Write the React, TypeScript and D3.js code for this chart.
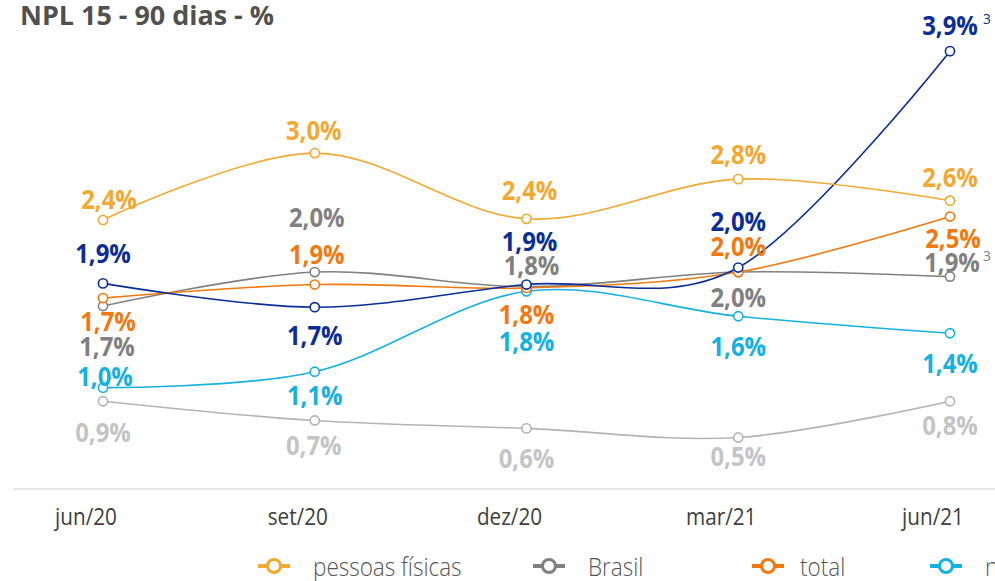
import React from 'react';
import * as d3 from 'd3';

const categories = ['jun/20', 'set/20', 'dez/20', 'mar/21', 'jun/21'];

const pessoasFisicas = [2.41, 3.0, 2.42, 2.77, 2.58];
const pessoasFisicasLabels = ['2,4%', '3,0%', '2,4%', '2,8%', '2,6%'];

const navySeries = [1.85, 1.64, 1.84, 1.99, 3.9];
const navyLabels = ['1,9%', '1,7%', '1,9%', '2,0%', '3,9%'];

const total = [1.72, 1.84, 1.81, 1.95, 2.44];
const totalLabels = ['1,7%', '1,9%', '1,8%', '2,0%', '2,5%'];

const brasil = [1.65, 1.95, 1.82, 1.95, 1.91];
const brasilLabels = ['1,7%', '2,0%', '1,8%', '2,0%', '1,9%'];

const cyanSeries = [0.93, 1.07, 1.78, 1.56, 1.41];
const cyanLabels = ['1,0%', '1,1%', '1,8%', '1,6%', '1,4%'];

const lightGraySeries = [0.81, 0.64, 0.57, 0.49, 0.81];
const lightGrayLabels = ['0,9%', '0,7%', '0,6%', '0,5%', '0,8%'];

const legendNames = ['pessoas físicas', 'Brasil', 'total', 'n'];

const W = 995;
const H = 581;

type Series = {
  key: string;
  values: number[];
  labels: string[];
  color: string;
  textColor: string;
  dx: number[];
  dy: number[];
  sup?: number;
  supDx?: number;
};

const series: Series[] = [
  {
    key: 'lg', values: lightGraySeries, labels: lightGrayLabels, color: '#b3b3b3', textColor: '#c4c4c4',
    dx: [0, -1, 0, 0, 0], dy: [41, 35, 40, 29, 34],
  },
  {
    key: 'cy', values: cyanSeries, labels: cyanLabels, color: '#14b1e2', textColor: '#14b1e2',
    dx: [2, 0, 0, 0, 0], dy: [-2, 33, 60, 40, 40],
  },
  {
    key: 'br', values: brasil, labels: brasilLabels, color: '#808080', textColor: '#808080',
    dx: [4, 2, 5, 0, 2], dy: [50, -45, -12, 35, -5], sup: 4, supDx: 31,
  },
  {
    key: 'to', values: total, labels: totalLabels, color: '#f2790f', textColor: '#f2790f',
    dx: [5, 2, 0, 0, 3], dy: [33, -21, 36, -16, 31],
  },
  {
    key: 'nv', values: navySeries, labels: navyLabels, color: '#0a2d96', textColor: '#0a2d96',
    dx: [0, 0, 3, 0, 0], dy: [-20, 38, -34, -37, -16], sup: 4, supDx: 33,
  },
  {
    key: 'pf', values: pessoasFisicas, labels: pessoasFisicasLabels, color: '#f3a832', textColor: '#f3a832',
    dx: [6, -1, 3, 0, 0], dy: [-11, -13, -19, -15, -14],
  },
];

const legendColors = ['#f3a832', '#808080', '#f2790f', '#14b1e2'];
const legendMarkX = [274, 549, 768, 946];
const legendTextX = [313, 588, 800, 985];

const FONT = '"Open Sans", "Noto Sans", sans-serif';

function STxt(props: {
  x: number; y: number; sx?: number; anchor?: string; size: number; weight?: number | string;
  fill: string; children: React.ReactNode;
}) {
  const { x, y, sx = 0.92, anchor = 'middle', size, weight = 400, fill, children } = props;
  return (
    <text
      transform={`translate(${x},${y}) scale(${sx},1)`}
      textAnchor={anchor as any}
      fontFamily={FONT}
      fontSize={size}
      fontWeight={weight as any}
      fill={fill}
    >
      {children}
    </text>
  );
}

export default function App() {
  const x = d3.scalePoint<string>().domain(categories).range([103, 950]);
  const y = d3.scaleLinear().domain([0, 4]).range([493, 39.8]);

  const line = d3
    .line<number>()
    .x((_, i) => x(categories[i]) as number)
    .y((d) => y(d))
    .curve(d3.curveCardinal.tension(0));

  return (
    <div style={{ position: 'absolute', left: 0, top: 0, width: W, height: H, overflow: 'hidden', background: '#fff' }}>
      <svg width={W} height={H} style={{ display: 'block' }}>
        <rect x={0} y={0} width={W} height={H} fill="#fff" />
        <text
          x={20}
          y={25}
          fontFamily={FONT}
          fontSize={27}
          fontWeight={700}
          fill="#505050"
          textLength={254}
          lengthAdjust="spacingAndGlyphs"
        >
          NPL 15 - 90 dias - %
        </text>

        <line x1={13} x2={W} y1={489} y2={489} stroke="#e6e6e6" strokeWidth={2} />

        {categories.map((c) => (
          <STxt key={c} x={(x(c) as number) - 17} y={525} size={23} fill="#404040" sx={0.9}>
            {c}
          </STxt>
        ))}

        {series.map((s) => (
          <path key={s.key} d={line(s.values) || ''} fill="none" stroke={s.color} strokeWidth={1.6} />
        ))}

        {series.map((s) =>
          s.values.map((v, i) => (
            <circle
              key={s.key + i}
              cx={x(categories[i]) as number}
              cy={y(v)}
              r={4.6}
              fill="#fff"
              stroke={s.color}
              strokeWidth={1.6}
            />
          ))
        )}

        {series.map((s) =>
          s.values.map((v, i) => {
            const cx = (x(categories[i]) as number) + s.dx[i];
            const by = y(v) + s.dy[i];
            return (
              <g key={'l' + s.key + i}>
                <STxt x={cx} y={by} size={26} weight={700} fill={s.textColor}>
                  {s.labels[i]}
                </STxt>
                {s.sup === i && (
                  <STxt x={cx + (s.supDx || 0)} y={by - 11} size={15} weight={400} fill={s.textColor} anchor="start">
                    3
                  </STxt>
                )}
              </g>
            );
          })
        )}

        {legendNames.map((n, i) => (
          <g key={n}>
            <line
              x1={legendMarkX[i] - 16}
              x2={legendMarkX[i] + 16}
              y1={566}
              y2={566}
              stroke={legendColors[i]}
              strokeWidth={4}
            />
            <circle cx={legendMarkX[i]} cy={566} r={6.5} fill="#fff" stroke={legendColors[i]} strokeWidth={3} />
            <STxt x={legendTextX[i]} y={576} size={25} weight={300} fill="#555" anchor="start" sx={0.9}>
              {n}
            </STxt>
          </g>
        ))}
      </svg>
    </div>
  );
}
